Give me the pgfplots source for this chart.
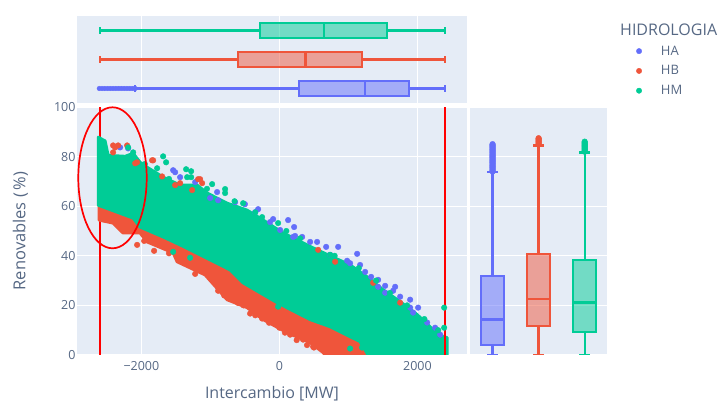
\documentclass[border=0pt]{standalone}
\usepackage{fontspec}
\setmainfont{Open Sans}
\usepackage{pgfplots}
\pgfplotsset{compat=1.18}
\usepgfplotslibrary{statistics}
\definecolor{cA}{HTML}{636EFA}
\definecolor{cB}{HTML}{EF553B}
\definecolor{cC}{HTML}{00CC96}
\definecolor{panel}{HTML}{E5ECF6}
\definecolor{txt}{HTML}{566884}
\pgfplotsset{
  base/.style={scale only axis, axis background/.style={fill=panel},
    axis line style={draw=none}, tick style={draw=none}, major tick length=0pt,
    grid=major, grid style={white,line width=1.2pt},
    tick label style={font=\fontsize{12.5}{14}\selectfont, text=txt},
    boxplot/every box/.style={line width=2.1pt},
    boxplot/every median/.style={line width=2.3pt},
    boxplot/every whisker/.style={line width=2.3pt}},
}
\begin{document}
\begin{tikzpicture}[x=1pt,y=1pt]
\path (0,0) rectangle (719,403);
% main panel
\begin{axis}[base, name=main, at={(77pt,48pt)}, anchor=south west, width=390pt, height=248pt,
  xmin=-2933, xmax=2718, ymin=0, ymax=100,
  xtick={-2000,0,2000}, xticklabels={−2000,0,2000},
  ytick={0,20,40,60,80,100}, yticklabels={0,20,40,60,80,100},
  xticklabel style={yshift=-3pt}, yticklabel style={xshift=2pt},
  xlabel={Intercambio [MW]}, ylabel={Renovables (\,\%)},
  xlabel style={at={(axis description cs:0.5,0)},anchor=center,yshift=-39pt,font=\fontsize{16}{18}\selectfont,text=txt},
  ylabel style={at={(axis description cs:0,0.5)},anchor=center,yshift=56.5pt,font=\fontsize{16.5}{18}\selectfont,text=txt},
  legend style={at={(axis description cs:1.4255,1.264)},anchor=north west,draw=none,fill=none,
    font=\fontsize{13}{15}\selectfont, text=txt, row sep=5pt, cells={anchor=west}},
  legend image code/.code={\fill[#1] (0.27cm,0pt) circle (2.7pt);},
]
\addlegendimage{cA,fill=cA}\addlegendentry{\hspace{17pt}HA}
\addlegendimage{cB,fill=cB}\addlegendentry{\hspace{17pt}HB}
\addlegendimage{cC,fill=cC}\addlegendentry{\hspace{17pt}HM}
\addplot[forget plot,red,line width=2pt] coordinates {(-2600,0)(-2600,100)};
% HA
\addplot[forget plot,only marks,mark=*,mark size=2.8pt,cA,mark options={draw=none,fill=cA}] coordinates {
(-2308,83.7)(-2192,83.3)(-1540,74.5)(-1511,73.7)(-1439,71.7)(-1221,69.7)(-1004,63.3)(-888,62.4)(-903,65.7)
(-642,61.6)(-500,60.8)(-309,58.8)(-352,57.6)(-91,54.8)(-135,53.6)(126,54.4)(213,51.6)(10,50.4)(199,47.6)(329,47.6)
(227,48)(445,45.6)(546,45.6)(677,43.6)(851,43.6)(735,40.4)(981,38)(1126,40.8)(1024,37)(1169,36.3)(1242,33.5)(1329,31.5)
(1430,30.3)(1430,27.5)(1532,27.9)(1677,27.5)(1648,25.9)(1532,25.1)(1749,23.5)(1894,22.3)(2010,19.1)(1894,19.1)(1937,17.1)
(2140,13.1)(2256,11)(2329,8.2)
};
% HB
\addplot[forget plot,draw=cB,fill=cB,line width=3pt,line join=round] coordinates {
(-2613,60)(-2613,54.4)(-2410,53.2)(-2265,49.2)(-2019,49.2)(-1917,45.6)(-1540,41.2)(-1482,37.6)(-1077,32.3)
(-758,22.3)(-468,19.1)(-236,14.3)(112,9)(445,5)(633,1)(662,0)(1285,0)(1169,5.4)(735,20)(-2019,60)} -- cycle;
\addplot[forget plot,only marks,mark=*,mark size=2.8pt,cB,mark options={draw=none,fill=cB}] coordinates {
(-2062,44.4)(-1816,42)(-1221,32.7)(-975,30.3)(-888,25.9)(-714,23.1)(-425,16.7)(-251,14.7)(155,8.2)(343,7.4)(343,6.2)(488,3.4)
(-2410,84.5)(-2337,84.5)(-2380,83.7)(-2207,84.5)(-2410,81.7)(-2090,77.3)(-2062,77.7)(-1830,78.5)(-1845,78.5)(-1178,70.9)(-1120,69.3)
(-1265,66.5)(-1511,68.5)(-1439,69.3)(1358,29.1)(807,37.6)(1749,21.1)(561,42.4)(-1149,70.9)(-1700,72)
(-1960,46)(-1700,44)(-1600,41)(-1350,37)(-1250,36)(-1150,34)(-1000,31)(-880,27)(-800,24)(-600,21)(-520,20)(-350,16)(-150,13)(0,11)(80,9)(250,6)(400,4)(500,3)
};
% HM
\addplot[forget plot,draw=cC,fill=cC,line width=3pt,line join=round] coordinates {
(-2625,87.8)(-2526,86.3)(-2482,80.5)(-2236,80.1)(-2119,81.3)(-2019,77.7)(-1917,75.7)(-1685,71.7)(-1439,68.5)(-1192,68.5)
(-1048,65.3)(-758,61.2)(-468,58.4)(-236,54.4)(54,49.2)(546,42.4)(1024,36.3)(1271,31.5)(1503,26.3)(1749,21.5)(1995,16.3)
(2227,10.2)(2372,7.4)(2430,7)(2430,0)(1285,0)(1169,5.4)(735,11.4)(445,14.3)(-33,21.1)(-526,29.1)(-714,34.3)(-1004,38.4)
(-1439,44.4)(-1685,47.6)(-2019,51.6)(-2119,55.2)(-2625,60.4)} -- cycle;
\addplot[forget plot,only marks,mark=*,mark size=2.8pt,cC,mark options={draw=none,fill=cC}] coordinates {
(-1685,80.1)(-1642,77.7)(-1352,74.9)(-1279,74.1)(-1279,71.7)(-1337,71.7)(-1772,75.3)(-975,68.9)(-787,66.9)(-787,65.3)(-526,61.2)
(-251,55.6)(-19,53.2)(-2192,83.7)(-2119,81.7)(-2555,85.9)(735,40.4)
(-1294,39.2)(-19,19.5)(1024,2.6)(1198,3)(-1540,41.6)
(2387,19.1)(2387,11)
(-1950,77)(-1600,71)(-1050,67)(-650,62)(-350,57.5)(100,50)(300,47)(800,40)(1150,35)(1400,30)(1600,25)(1850,20)(2100,14.5)(2300,10)
};
\addplot[forget plot,red,line width=2pt] coordinates {(2396,0)(2396,100)};
\end{axis}
\node[anchor=west,inner sep=0pt,font=\fontsize{16}{18}\selectfont,text=txt] at (620,373.7) {HIDROLOGIA};
% top panel
\begin{axis}[base, at={(77pt,300pt)}, anchor=south west, width=390pt, height=87pt,
  xmin=-2933, xmax=2718, ymin=-0.5, ymax=2.5, xtick={-2000,0,2000}, xticklabels={}, ytick=\empty,
  boxplot/draw direction=x, boxplot/box extend=0.517, boxplot/whisker extend=0.22]
\addplot[draw=cA,fill=cA,fill opacity=0.5,boxplot prepared={draw position=0,
  lower whisker=-2090,lower quartile=290,median=1237,upper quartile=1884,upper whisker=2396}] coordinates {};
\addplot[only marks,mark=*,mark size=2.3pt,cA,mark options={draw=none,fill=cA}] coordinates {
(-2610,0)(-2570,0)(-2530,0)(-2490,0)(-2450,0)(-2410,0)(-2370,0)(-2330,0)(-2290,0)(-2250,0)(-2210,0)(-2170,0)(-2130,0)(-2090,0)};
\addplot[draw=cB,fill=cB,fill opacity=0.5,boxplot prepared={draw position=1,
  lower whisker=-2600,lower quartile=-594,median=377,upper quartile=1194,upper whisker=2396}] coordinates {};
\addplot[draw=cC,fill=cC,fill opacity=0.5,boxplot prepared={draw position=2,
  lower whisker=-2600,lower quartile=-280,median=648,upper quartile=1556,upper whisker=2396}] coordinates {};
\end{axis}
% right panel
\begin{axis}[base, at={(470pt,48pt)}, anchor=south west, width=137pt, height=248pt,
  xmin=-0.49, xmax=2.485, ymin=0, ymax=100, xtick=\empty, ytick={0,20,40,60,80,100}, yticklabels={},
  boxplot/draw direction=y, boxplot/box extend=0.51, boxplot/whisker extend=0.24]
\addplot[draw=cA,fill=cA,fill opacity=0.5,boxplot prepared={draw position=0,
  lower whisker=0,lower quartile=3.9,median=14.3,upper quartile=31.9,upper whisker=73.7}] coordinates {};
\addplot[only marks,mark=*,mark size=2.9pt,cA,mark options={draw=none,fill=cA}] coordinates {
(0,74)(0,74.5)(0,75)(0,75.5)(0,76)(0,76.5)(0,77)(0,77.5)(0,78)(0,78.5)(0,79)(0,79.5)(0,80)(0,80.5)(0,81)(0,81.5)(0,82)(0,82.5)(0,83)(0,83.5)(0,84)(0,84.5)(0,85)};
\addplot[draw=cB,fill=cB,fill opacity=0.5,boxplot prepared={draw position=1,
  lower whisker=0,lower quartile=11.8,median=22.6,upper quartile=40.9,upper whisker=84.5}] coordinates {};
\addplot[only marks,mark=*,mark size=2.9pt,cB,mark options={draw=none,fill=cB}] coordinates {
(1,85)(1,85.5)(1,86)(1,86.5)(1,87)(1,87.4)};
\addplot[draw=cC,fill=cC,fill opacity=0.5,boxplot prepared={draw position=2,
  lower whisker=0,lower quartile=9.3,median=21.2,upper quartile=38.3,upper whisker=81.6}] coordinates {};
\addplot[only marks,mark=*,mark size=2.9pt,cC,mark options={draw=none,fill=cC}] coordinates {
(2,82)(2,82.5)(2,83)(2,83.5)(2,84)(2,84.5)(2,85)(2,85.5)(2,86)};
\end{axis}
\draw[red,line width=1.7pt] (112.5,225.2) ellipse (34.2 and 70.5);
\end{tikzpicture}
\end{document}
